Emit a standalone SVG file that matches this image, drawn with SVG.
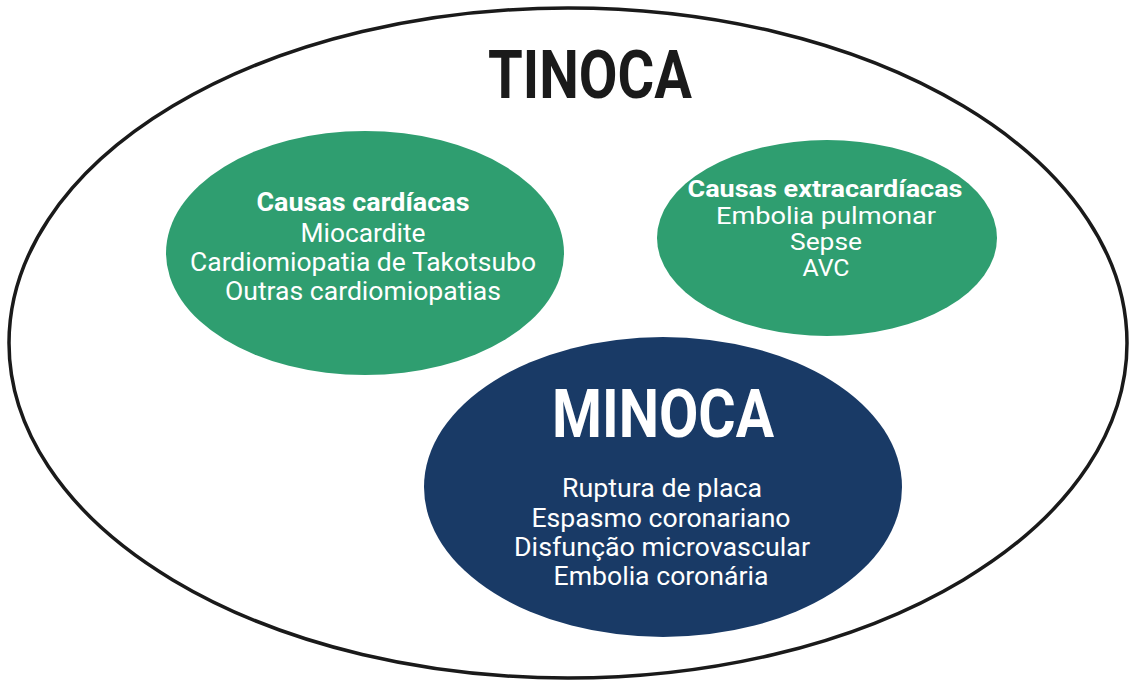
<svg xmlns="http://www.w3.org/2000/svg" width="1137" height="689" viewBox="0 0 1137 689">
<style>
.t{font-family:Roboto,"Liberation Sans",sans-serif;text-anchor:middle;fill:#fff}
.b{font-weight:bold}
.n{font-weight:normal}
</style>
<rect width="1137" height="689" fill="#fff"/>
<g id="tinoca">
<ellipse cx="568" cy="343" rx="559" ry="335" fill="#fff" stroke="#1a1a1a" stroke-width="3.5"/>
<text class="t b" x="590" y="98" font-size="67" style="fill:#1a1a1a" textLength="204" lengthAdjust="spacingAndGlyphs">TINOCA</text>
</g>
<g id="cardiacas">
<ellipse cx="365" cy="253" rx="199" ry="122" fill="#2f9e70"/>
<text class="t b" x="363" y="211" font-size="26" textLength="213" lengthAdjust="spacingAndGlyphs">Causas cardíacas</text>
<text class="t n" x="363" y="242" font-size="26" textLength="125" lengthAdjust="spacingAndGlyphs">Miocardite</text>
<text class="t n" x="363" y="271" font-size="26" textLength="346" lengthAdjust="spacingAndGlyphs">Cardiomiopatia de Takotsubo</text>
<text class="t n" x="363" y="300" font-size="26" textLength="276" lengthAdjust="spacingAndGlyphs">Outras cardiomiopatias</text>
</g>
<g id="extracardiacas">
<ellipse cx="827" cy="238" rx="170" ry="98" fill="#2f9e70"/>
<text class="t b" x="825" y="197" font-size="24" textLength="275" lengthAdjust="spacingAndGlyphs">Causas extracardíacas</text>
<text class="t n" x="826" y="224" font-size="24" textLength="220" lengthAdjust="spacingAndGlyphs">Embolia pulmonar</text>
<text class="t n" x="826" y="250" font-size="24" textLength="72" lengthAdjust="spacingAndGlyphs">Sepse</text>
<text class="t n" x="826" y="276" font-size="24" textLength="47" lengthAdjust="spacingAndGlyphs">AVC</text>
</g>
<g id="minoca">
<ellipse cx="663" cy="487" rx="239" ry="150" fill="#193a66"/>
<text class="t b" x="663" y="437" font-size="66" textLength="222" lengthAdjust="spacingAndGlyphs">MINOCA</text>
<text class="t n" x="662" y="497" font-size="26" textLength="200" lengthAdjust="spacingAndGlyphs">Ruptura de placa</text>
<text class="t n" x="661" y="527" font-size="26" textLength="259" lengthAdjust="spacingAndGlyphs">Espasmo coronariano</text>
<text class="t n" x="662" y="556" font-size="26" textLength="296" lengthAdjust="spacingAndGlyphs">Disfunção microvascular</text>
<text class="t n" x="661" y="585" font-size="26" textLength="215" lengthAdjust="spacingAndGlyphs">Embolia coronária</text>
</g>
<g id="connectors"/>
</svg>
